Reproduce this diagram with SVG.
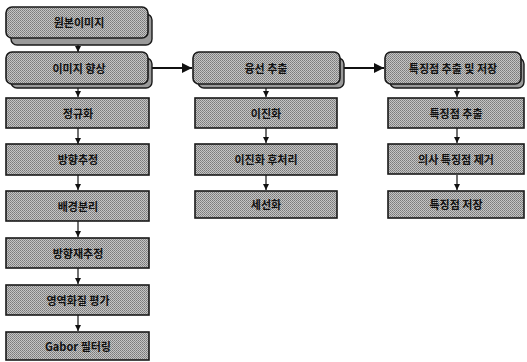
<svg xmlns="http://www.w3.org/2000/svg" width="527" height="362" viewBox="0 0 527 362">
<defs>
<pattern id="dith" width="2" height="2" patternUnits="userSpaceOnUse">
<rect width="2" height="2" fill="#c4c4c4"/>
<rect width="1" height="1" fill="#7a7a7a"/>
<rect x="1" y="1" width="1" height="1" fill="#8a8a8a"/>
</pattern>
<marker id="arr" viewBox="0 0 10 10" refX="10" refY="5" markerWidth="6" markerHeight="6" orient="auto" markerUnits="userSpaceOnUse">
<path d="M0,0 L10,5 L0,10 z" fill="#111"/>
</marker>
<marker id="arrL" viewBox="0 0 10 10" refX="10" refY="5" markerWidth="10" markerHeight="10" orient="auto" markerUnits="userSpaceOnUse">
<path d="M0,0 L10,5 L0,10 z" fill="#111"/>
</marker>
</defs>
<style>
.box{fill:url(#dith);stroke:#1a1a1a;stroke-width:1.6}
.hdr{fill:url(#dith);stroke:#1a1a1a;stroke-width:1.6}
.sh{fill:#9a9a9a;stroke:#1a1a1a;stroke-width:1.4}
.t{font-family:"Noto Sans CJK KR","Noto Sans",sans-serif;font-size:11px;font-weight:bold;fill:#111;text-anchor:middle;dominant-baseline:central}
.c{stroke:#111;stroke-width:1.2;fill:none}
.cb{stroke:#111;stroke-width:2;fill:none}
</style>
<g id="connectors">
<line class="c" x1="78" y1="38" x2="78" y2="52" marker-end="url(#arr)"/>
<line class="c" x1="78" y1="86" x2="78" y2="97" marker-end="url(#arr)"/>
<line class="c" x1="78" y1="128" x2="78" y2="144" marker-end="url(#arr)"/>
<line class="c" x1="78" y1="175" x2="78" y2="190" marker-end="url(#arr)"/>
<line class="c" x1="78" y1="221" x2="78" y2="237" marker-end="url(#arr)"/>
<line class="c" x1="78" y1="268" x2="78" y2="284" marker-end="url(#arr)"/>
<line class="c" x1="78" y1="315" x2="78" y2="331" marker-end="url(#arr)"/>
<line class="cb" x1="152" y1="68" x2="192" y2="68" marker-end="url(#arrL)"/>
<line class="cb" x1="344" y1="68" x2="384" y2="68" marker-end="url(#arrL)"/>
<line class="c" x1="266" y1="86" x2="266" y2="97" marker-end="url(#arr)"/>
<line class="c" x1="266" y1="128" x2="266" y2="143" marker-end="url(#arr)"/>
<line class="c" x1="266" y1="175" x2="266" y2="190" marker-end="url(#arr)"/>
<line class="c" x1="457" y1="86" x2="457" y2="97" marker-end="url(#arr)"/>
<line class="c" x1="457" y1="128" x2="457" y2="143" marker-end="url(#arr)"/>
<line class="c" x1="457" y1="175" x2="457" y2="190" marker-end="url(#arr)"/>
</g>
<g id="n1">
<rect class="sh" x="11" y="14" width="141" height="31" rx="6"/>
<rect class="hdr" x="6" y="7" width="142" height="31" rx="6"/>
<text class="t" x="79" y="22">원본이미지</text>
</g>
<g id="n2">
<rect class="sh" x="11" y="58" width="141" height="30" rx="6"/>
<rect class="hdr" x="6" y="52" width="142" height="32" rx="6"/>
<text class="t" x="79" y="68">이미지 향상</text>
</g>
<g id="n3"><rect class="box" x="6" y="98" width="143" height="30"/><text class="t" x="78" y="113">정규화</text></g>
<g id="n4"><rect class="box" x="6" y="144" width="143" height="31"/><text class="t" x="78" y="159">방향추정</text></g>
<g id="n5"><rect class="box" x="6" y="191" width="143" height="30"/><text class="t" x="78" y="206">배경분리</text></g>
<g id="n6"><rect class="box" x="6" y="238" width="143" height="30"/><text class="t" x="78" y="253">방향재추정</text></g>
<g id="n7"><rect class="box" x="6" y="285" width="143" height="30"/><text class="t" x="78" y="300">영역화질 평가</text></g>
<g id="n8"><rect class="box" x="6" y="332" width="143" height="28"/><text class="t" x="78" y="346">Gabor 필터링</text></g>
<g id="m1">
<rect class="sh" x="198" y="58" width="146" height="30" rx="6"/>
<rect class="hdr" x="193" y="52" width="147" height="32" rx="6"/>
<text class="t" x="266" y="68">융선 추출</text>
</g>
<g id="m2"><rect class="box" x="195" y="98" width="142" height="30"/><text class="t" x="266" y="113">이진화</text></g>
<g id="m3"><rect class="box" x="195" y="144" width="142" height="31"/><text class="t" x="266" y="159">이진화 후처리</text></g>
<g id="m4"><rect class="box" x="195" y="191" width="142" height="27"/><text class="t" x="266" y="204">세선화</text></g>
<g id="r1">
<rect class="sh" x="390" y="58" width="134" height="30" rx="6"/>
<rect class="hdr" x="385" y="52" width="136" height="32" rx="6"/>
<text class="t" x="453" y="68">특징점 추출 및 저장</text>
</g>
<g id="r2"><rect class="box" x="388" y="98" width="136" height="30"/><text class="t" x="456" y="113">특징점 추출</text></g>
<g id="r3"><rect class="box" x="388" y="144" width="136" height="30"/><text class="t" x="456" y="159">의사 특징점 제거</text></g>
<g id="r4"><rect class="box" x="388" y="191" width="136" height="27"/><text class="t" x="456" y="204">특징점 저장</text></g>
</svg>
